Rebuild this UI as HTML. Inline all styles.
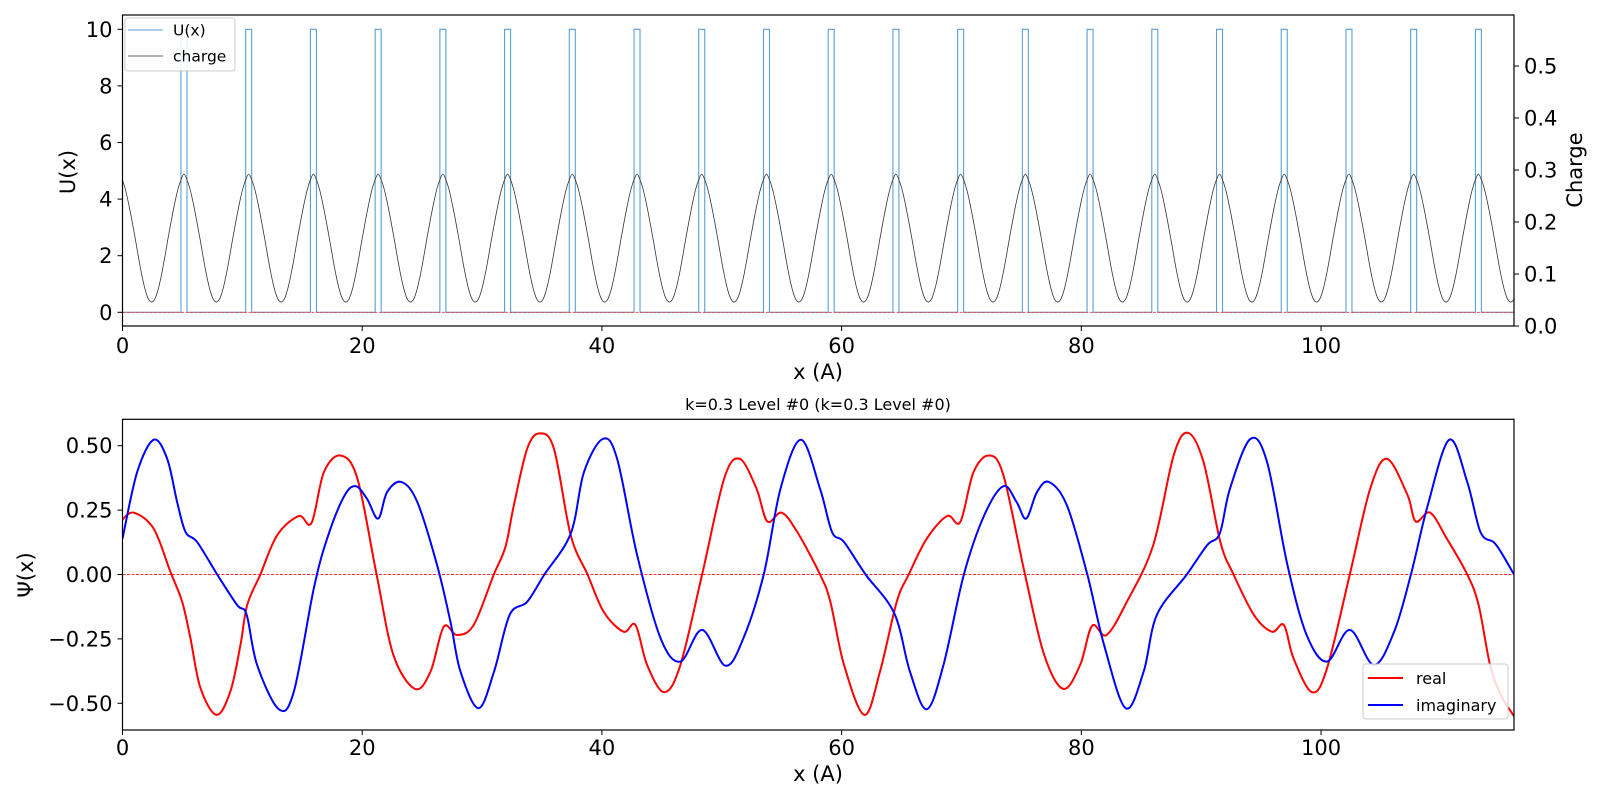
<!DOCTYPE html>
<html><head><meta charset="utf-8"><style>
html,body{margin:0;padding:0;background:#fff;}
svg{display:block;font-family:"DejaVu Sans","Liberation Sans",sans-serif;}
</style></head><body>
<svg id="fig" width="1600" height="800" viewBox="0 0 1600 800" xmlns="http://www.w3.org/2000/svg">
<rect x="0" y="0" width="1600" height="800" fill="#fff"/>
<g id="topChart"></g>
<g id="botChart"></g>
</svg>
<script>
// ---- data ----
const xMax = 116.1;
const xTicks = [0,20,40,60,80,100];
const uTicks = [0,2,4,6,8,10];
const chargeTicks = [0,0.1,0.2,0.3,0.4,0.5];
const psiTicks = [0.5,0.25,0,-0.25,-0.5];
const psiTickLabels = ["0.50","0.25","0.00","\u22120.25","\u22120.50"];
const barrierStart = [4.88,10.28,15.68,21.08,26.48,31.88,37.28,42.68,48.08,53.48,58.88,64.28,69.68,75.08,80.48,85.88,91.28,96.68,102.08,107.48,112.88];
const barrierWidth = 0.5;
const barrierHeight = 10;
const cellLength = 5.4;
const cellOffset = -2.97;
const chargeCellPos = [0,0.05,0.1,0.15,0.2,0.25,0.3,0.35,0.4,0.45,0.5,0.55,0.6,0.65,0.7,0.75,0.8,0.85,0.9,0.95,1];
const chargeCellVal = [0.046,0.052,0.07,0.097,0.13,0.166,0.2,0.232,0.26,0.28,0.292,0.28,0.26,0.232,0.2,0.166,0.13,0.097,0.07,0.052,0.046];
const realX = [0,0.95,2.6,4.0,4.98,5.67,6.5,7.84,9.0,9.84,10.4,11.5,12.9,14.7,15.77,16.8,18.2,19.6,21.2,22.6,24.4,25.7,26.8,27.9,29.3,30.98,31.95,32.65,33.76,34.8,36.0,37.4,38.8,40.15,41.8,42.8,43.77,45.2,46.55,48.36,50.2,51.5,52.9,53.8,55.0,56.3,58.2,59.06,60.2,61.9,63.2,64.6,65.6,67.1,68.8,69.9,71.0,72.3,73.5,75.3,76.9,78.5,79.9,80.9,82.1,83.8,86.0,87.7,88.9,90.2,91.6,92.7,94.4,95.9,96.9,97.7,99.25,100.5,102.4,104.1,105.5,107.2,107.9,109.1,110.5,112.2,113.15,114.1,115.0,116.1];
const realY = [0.214,0.24,0.178,0.01,-0.106,-0.248,-0.44,-0.545,-0.454,-0.274,-0.119,0,0.152,0.227,0.2,0.397,0.462,0.372,0,-0.312,-0.444,-0.377,-0.203,-0.235,-0.196,0,0.107,0.268,0.488,0.548,0.488,0.152,0,-0.145,-0.222,-0.196,-0.351,-0.457,-0.351,0,0.372,0.449,0.333,0.206,0.24,0.165,0,-0.106,-0.351,-0.545,-0.377,-0.106,0,0.139,0.227,0.204,0.397,0.462,0.385,0,-0.312,-0.444,-0.351,-0.199,-0.235,-0.106,0.114,0.462,0.55,0.436,0.126,0,-0.157,-0.222,-0.196,-0.325,-0.457,-0.364,0,0.333,0.449,0.31,0.206,0.24,0.139,0,-0.119,-0.351,-0.467,-0.55];
const imagX = [0,1.22,2.6,3.73,4.56,5.26,6.23,7.9,9.57,10.35,11.23,13.04,14.3,15.96,17.07,18.46,19.44,20.4,21.33,22.08,23.28,24.6,26.25,27.36,28.2,29.7,31.0,32.3,33.76,35.2,37.4,38.5,40.07,41.27,42.94,44.9,46.55,48.36,50.3,51.8,53.5,54.9,56.6,58.2,59.2,60.2,62.0,64.4,65.7,67.1,68.5,70.2,71.9,73.5,74.6,75.4,76.3,77.3,78.8,80.5,81.9,83.7,85.2,86.3,88.8,90.5,91.55,92.4,94.1,95.5,97.2,98.8,100.5,102.4,104.4,106.1,107.5,108.9,110.7,112.2,113.3,114.4,115.0,116.1];
const imagY = [0.139,0.397,0.523,0.449,0.281,0.165,0.126,0,-0.119,-0.155,-0.351,-0.523,-0.454,-0.054,0.139,0.301,0.343,0.294,0.217,0.32,0.359,0.281,0.036,-0.183,-0.377,-0.519,-0.377,-0.157,-0.106,0,0.159,0.397,0.526,0.449,0.075,-0.248,-0.338,-0.215,-0.354,-0.248,0,0.333,0.523,0.333,0.165,0.126,0,-0.151,-0.377,-0.523,-0.351,0,0.23,0.343,0.281,0.217,0.32,0.359,0.268,0,-0.274,-0.519,-0.377,-0.157,0,0.114,0.159,0.333,0.526,0.436,0.036,-0.235,-0.338,-0.215,-0.351,-0.222,0,0.268,0.523,0.359,0.165,0.126,0.088,0];

// ---- axis functions ----
const L=122.5, R=1514;
const sx = v => L + v*(R-L)/xMax;
const T1=15, B1=326;
const sU = v => 312.3 - v*28.3;
const sC = v => 326 - v*520;
const T2=419.3, B2=730;
const sP = v => 574.5 - v*257.6;
const NS="http://www.w3.org/2000/svg";
function mk(parent, tag, attrs, text){
  const e=document.createElementNS(NS,tag);
  for(const k in attrs) e.setAttribute(k,attrs[k]);
  if(text!==undefined) e.textContent=text;
  parent.appendChild(e); return e;
}
function lbl(parent,attrs,text,name){
  const e=mk(parent,'text',attrs,text);
  
  
  return e;
}
function smoothPath(xs, ys, fx, fy){
  const p=xs.map((x,i)=>[fx(x),fy(ys[i])]);
  let d="M"+p[0][0].toFixed(2)+","+p[0][1].toFixed(2);
  for(let i=0;i<p.length-1;i++){
    const p0=p[Math.max(0,i-1)],p1=p[i],p2=p[i+1],p3=p[Math.min(p.length-1,i+2)];
    const c1x=p1[0]+(p2[0]-p0[0])/6, c1y=p1[1]+(p2[1]-p0[1])/6;
    const c2x=p2[0]-(p3[0]-p1[0])/6, c2y=p2[1]-(p3[1]-p1[1])/6;
    d+=` C${c1x.toFixed(2)},${c1y.toFixed(2)} ${c2x.toFixed(2)},${c2y.toFixed(2)} ${p2[0].toFixed(2)},${p2[1].toFixed(2)}`;
  }
  return d;
}
const topG=document.getElementById('topChart'), botG=document.getElementById('botChart');

// ===== TOP =====
let ud="M"+sx(0)+","+sU(0);
barrierStart.forEach(b=>{
  ud+=` L${sx(b).toFixed(2)},${sU(0)} L${sx(b).toFixed(2)},${sU(barrierHeight)} L${sx(b+barrierWidth).toFixed(2)},${sU(barrierHeight)} L${sx(b+barrierWidth).toFixed(2)},${sU(0)}`;
});
ud+=` L${sx(xMax)},${sU(0)}`;
let up=mk(topG,'path',{d:ud,fill:'none',stroke:'#5a9fd4','stroke-width':1.1});


let cx=[],cy=[];
for(let n=0;n<23;n++){
  chargeCellPos.forEach((f,i)=>{
    const x=cellOffset+(n+f)*cellLength;
    if(i===0&&n>0) return;
    if(x>=-0.3 && x<=xMax+0.3){cx.push(x);cy.push(chargeCellVal[i]);}
  });
}
let cp=mk(topG,'path',{d:smoothPath(cx,cy,sx,sC),fill:'none',stroke:'#333','stroke-width':0.8});


let zl=mk(topG,'line',{x1:L,x2:R,y1:sU(0),y2:sU(0),stroke:'#ff3030','stroke-width':0.9,'stroke-dasharray':'3,1.5'});


mk(topG,'rect',{x:0,y:0,width:L-0.5,height:340,fill:'#fff'});
mk(topG,'rect',{x:R+0.5,y:0,width:90,height:340,fill:'#fff'});
let fr=mk(topG,'rect',{x:L,y:T1,width:R-L,height:B1-T1,fill:'none',stroke:'#000','stroke-width':1.2});


xTicks.forEach(v=>{
  mk(topG,'line',{x1:sx(v),x2:sx(v),y1:B1,y2:B1+5,stroke:'#000','stroke-width':1});
  lbl(topG,{x:sx(v),y:B1+27,'font-size':21,'text-anchor':'middle'},String(v),'top-x-tick-label');
});
uTicks.forEach(v=>{
  mk(topG,'line',{x1:L-5,x2:L,y1:sU(v),y2:sU(v),stroke:'#000','stroke-width':1});
  lbl(topG,{x:L-10,y:sU(v)+7.5,'font-size':21,'text-anchor':'end'},String(v),'u-tick-label');
});
chargeTicks.forEach(v=>{
  mk(topG,'line',{x1:R,x2:R+5,y1:sC(v),y2:sC(v),stroke:'#000','stroke-width':1});
  lbl(topG,{x:R+10,y:sC(v)+7.5,'font-size':21,'text-anchor':'start'},v.toFixed(1),'charge-tick-label');
});
lbl(topG,{x:818,y:379,'font-size':21,'text-anchor':'middle'},'x (A)','top-x-axis-title');
lbl(topG,{x:0,y:0,'font-size':21,'text-anchor':'middle',transform:'translate(75,172) rotate(-90)'},'U(x)','u-axis-title');
lbl(topG,{x:0,y:0,'font-size':21,'text-anchor':'middle',transform:'translate(1582,170) rotate(-90)'},'Charge','charge-axis-title');
const lg=mk(topG,'g',{});


mk(lg,'rect',{x:125,y:18,width:110,height:53,rx:3,fill:'#fff','fill-opacity':0.85,stroke:'#ccc'});
mk(lg,'line',{x1:128,x2:163,y1:30,y2:30,stroke:'#5a9fd4','stroke-width':1.1});
lbl(lg,{x:173,y:35.5,'font-size':15.5},'U(x)','legend-entry-u');
mk(lg,'line',{x1:128,x2:163,y1:56,y2:56,stroke:'#333','stroke-width':0.8});
lbl(lg,{x:173,y:61.5,'font-size':15.5},'charge','legend-entry-charge');

// ===== BOTTOM =====
let z2=mk(botG,'line',{x1:L,x2:R,y1:sP(0),y2:sP(0),stroke:'#ff3030','stroke-width':0.9,'stroke-dasharray':'3,1.5'});


let rp=mk(botG,'path',{d:smoothPath(realX,realY,sx,sP),fill:'none',stroke:'#ff0000','stroke-width':2});


let ip=mk(botG,'path',{d:smoothPath(imagX,imagY,sx,sP),fill:'none',stroke:'#0000ff','stroke-width':2});


mk(botG,'rect',{x:0,y:400,width:L-0.5,height:340,fill:'#fff'});
mk(botG,'rect',{x:R+0.5,y:400,width:90,height:340,fill:'#fff'});
let f2=mk(botG,'rect',{x:L,y:T2,width:R-L,height:B2-T2,fill:'none',stroke:'#000','stroke-width':1.2});


xTicks.forEach(v=>{
  mk(botG,'line',{x1:sx(v),x2:sx(v),y1:B2,y2:B2+5,stroke:'#000','stroke-width':1});
  lbl(botG,{x:sx(v),y:B2+25,'font-size':21,'text-anchor':'middle'},String(v),'bottom-x-tick-label');
});
psiTicks.forEach((v,i)=>{
  mk(botG,'line',{x1:L-5,x2:L,y1:sP(v),y2:sP(v),stroke:'#000','stroke-width':1});
  lbl(botG,{x:L-10,y:sP(v)+7.5,'font-size':21,'text-anchor':'end'},psiTickLabels[i],'psi-tick-label');
});
lbl(botG,{x:818,y:781,'font-size':21,'text-anchor':'middle'},'x (A)','bottom-x-axis-title');
lbl(botG,{x:818,y:410,'font-size':16,'text-anchor':'middle'},'k=0.3 Level #0 (k=0.3 Level #0)','bottom-chart-title');
lbl(botG,{x:0,y:0,'font-size':21,'text-anchor':'middle','font-style':'normal',transform:'translate(33,575) rotate(-90)'},'\u03a8(x)','psi-axis-title');
const lg2=mk(botG,'g',{});


mk(lg2,'rect',{x:1363,y:664,width:145,height:55,rx:3,fill:'#fff','fill-opacity':0.85,stroke:'#ccc'});
mk(lg2,'line',{x1:1368,x2:1403,y1:678,y2:678,stroke:'#ff0000','stroke-width':2});
lbl(lg2,{x:1416,y:684,'font-size':16},'real','legend-entry-real');
mk(lg2,'line',{x1:1368,x2:1403,y1:705,y2:705,stroke:'#0000ff','stroke-width':2});
lbl(lg2,{x:1416,y:711,'font-size':16},'imaginary','legend-entry-imaginary');
</script>
</body></html>
